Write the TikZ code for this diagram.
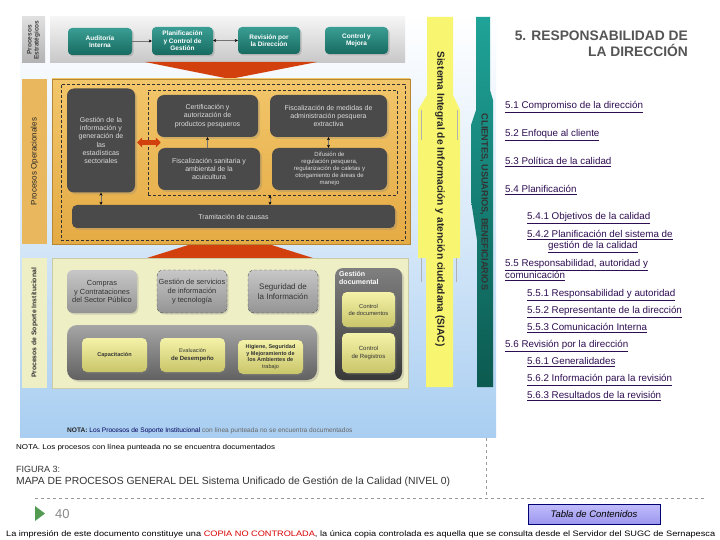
\documentclass[tikz,border=0pt]{standalone}
\usepackage{fontspec}
\setmainfont{Liberation Sans}
\usepackage{graphicx}
\usetikzlibrary{shadows,arrows.meta,calc}
\definecolor{tealA}{HTML}{3A9E94}
\definecolor{tealB}{HTML}{176A60}
\definecolor{darkbx}{HTML}{4A4A4A}
\definecolor{darktxt}{HTML}{DCDCDC}
\definecolor{orA}{HTML}{F2C66A}
\definecolor{orB}{HTML}{E4AA44}
\definecolor{orlbl}{HTML}{E9B75E}
\definecolor{redor}{HTML}{D2400E}
\definecolor{yelbar}{HTML}{F8F570}
\definecolor{tlA}{HTML}{1FA398}
\definecolor{tlB}{HTML}{0C5A50}
\definecolor{bgblue}{HTML}{A9CEF1}
\definecolor{supbg}{HTML}{EFEFC6}
\definecolor{yelA}{HTML}{F4F2A8}
\definecolor{yelB}{HTML}{C9C56A}
\definecolor{linkc}{HTML}{2E0E52}
\definecolor{titc}{HTML}{555555}
\definecolor{btnA}{HTML}{C0BCFA}
\definecolor{btnB}{HTML}{9C96EE}
\tikzset{
  base/.style={align=center, inner sep=1pt},
  tealbox/.style={base, rounded corners=4pt, top color=tealA, bottom color=tealB, text=white,
     font=\bfseries\fontsize{6.5}{7.6}\selectfont,
     drop shadow={opacity=0.35, shadow xshift=1.5pt, shadow yshift=-1.5pt}},
  darkbox/.style={base, rounded corners=7pt, fill=darkbx, text=darktxt,
     font=\fontsize{7}{8.2}\selectfont,
     drop shadow={opacity=0.25, shadow xshift=2pt, shadow yshift=-2pt}},
  greybox/.style={base, rounded corners=6pt, top color=black!22, bottom color=black!42, text=black!80,
     font=\fontsize{7.4}{8.8}\selectfont,
     drop shadow={opacity=0.25, shadow xshift=1.5pt, shadow yshift=-1.5pt}},
  yelbox/.style={base, rounded corners=5pt, top color=yelA, bottom color=yelB, text=black!80,
     font=\bfseries\fontsize{5.5}{6.6}\selectfont,
     drop shadow={opacity=0.3, shadow xshift=1.5pt, shadow yshift=-1.5pt}},
  lbl/.style={base, rotate=90, font=\bfseries\fontsize{6.8}{7.5}\selectfont, text=black!80},
  thinarr/.style={draw=black!55, line width=0.5pt, {Stealth[length=3pt,width=3pt,black]}-{Stealth[length=3pt,width=3pt,black]}},
  onearr/.style={draw=black!55, line width=0.5pt, -{Stealth[length=3pt,width=3pt,black]}},
  linkt/.style={anchor=base west, inner sep=0pt, text=linkc, font=\fontsize{9.8}{11}\selectfont},
}
\begin{document}
\begin{tikzpicture}[x=1pt,y=-1pt]
\useasboundingbox (0,0) rectangle (720,540);
\fill[white] (0,0) rectangle (720,540);
% figure background
\shade[top color=white, bottom color=bgblue, middle color=bgblue!45] (20,15) rectangle (496,437);

% ---------- red triangles ----------
\fill[redor] (147,258) -- (313,258) -- (230,232) -- cycle;

% ---------- strategic band ----------
\node[base, rotate=90, minimum width=46pt, minimum height=23pt, top color=black!12, bottom color=black!30,
      font=\bfseries\fontsize{6.5}{7}\selectfont, text=black!75] (lstr) at (33.5,40) {Procesos\\Estratégicos};
\node[base, minimum width=355pt, minimum height=46pt, top color=black!4, bottom color=black!22] (strat) at (227.5,40) {};
\fill[redor] (145,62) -- (317,62) -- (230,79) -- cycle;
\node[tealbox, minimum width=64pt, minimum height=27pt] (aud) at (100,41.5) {Auditoría\\Interna};
\node[tealbox, minimum width=61pt, minimum height=28pt] (plan) at (182.5,41) {Planificación\\y Control de\\Gestión};
\node[tealbox, minimum width=62pt, minimum height=27pt] (rev) at (269,40.5) {Revisión por\\la Dirección};
\node[tealbox, minimum width=63pt, minimum height=27pt] (cym) at (356.5,40.5) {Control y\\Mejora};
\draw[onearr] (aud.east |- plan.west) -- (plan.west);
\draw[thinarr] (plan.east |- rev.west) -- (rev.west);

% ---------- operational band ----------
\node[lbl, minimum width=164pt, minimum height=25pt, fill=orlbl, font=\fontsize{8}{9}\selectfont, text=black!85] (lop) at (34.5,161.5) {Procesos Operacionales};
\node[base, minimum width=358pt, minimum height=165pt, top color=orA, bottom color=orB, draw=orB!80!black] (oper) at (231,161.5) {};
\node[base, minimum width=344pt, minimum height=156pt, draw=black!80, densely dashed, line width=0.5pt] (odash) at (233,162) {};
\node[base, minimum width=249pt, minimum height=105pt, draw=black!80, densely dashed, line width=0.5pt] (inner) at (272.5,142.5) {};
\node[darkbox, minimum width=68pt, minimum height=104pt, text width=64pt] (gest) at (101,140.5)
  {Gestión de la\\información y\\generación de\\las\\estadísticas\\sectoriales};
\node[darkbox, minimum width=101pt, minimum height=42pt] (cert) at (207.5,116)
  {Certificación y\\autorización de\\productos pesqueros};
\node[darkbox, minimum width=117pt, minimum height=42pt] (fmed) at (328.5,116)
  {Fiscalización de medidas de\\administración pesquera\\extractiva};
\node[darkbox, minimum width=102pt, minimum height=42pt] (fsan) at (209,169)
  {Fiscalización sanitaria y\\ambiental de la\\acuicultura};
\node[darkbox, minimum width=115pt, minimum height=42pt, font=\fontsize{6}{6.9}\selectfont] (dif) at (329.5,169)
  {Difusión de\\regulación pesquera,\\regularización de caletas y\\otorgamiento de áreas de\\manejo};
\node[darkbox, rounded corners=5pt, minimum width=323pt, minimum height=23pt] (tram) at (233.5,216.5) {Tramitación de causas};
\coordinate (c207) at (207.5,0);
\coordinate (c270) at (270,0);
\draw[onearr] (fsan.north -| c207) -- (cert.south -| c207);
\draw[thinarr] (fmed.south) -- (fmed.south |- dif.north);
\draw[thinarr] (gest.south) -- (gest.south |- tram.north);
\draw[thinarr] (inner.south -| c270) -- (tram.north -| c270);
\draw[redor, line width=4.5pt, {Triangle[length=5pt,width=10pt]}-{Triangle[length=5pt,width=10pt]}]
  ($(gest.east |- inner.west)+(2,0)$) -- ($(inner.west)+(13,0)$);

% ---------- support band ----------
\node[lbl, minimum width=130pt, minimum height=25pt, fill=supbg] (lsup) at (34.5,323) {Procesos de Soporte Institucional};
\node[base, minimum width=356pt, minimum height=130pt, fill=supbg, draw=supbg!85!black] (sup) at (230,323) {};
\node[greybox, minimum width=70pt, minimum height=43pt] (comp) at (102,291.5) {Compras\\y Contrataciones\\del Sector Público};
\node[greybox, minimum width=70pt, minimum height=43pt, draw=black!70, densely dashed] (gserv) at (192,291.5) {Gestión de servicios\\de información\\y tecnología};
\node[greybox, minimum width=70pt, minimum height=43pt, draw=black!70, densely dashed, font=\fontsize{8}{9.6}\selectfont] (seg) at (283,291.5) {Seguridad de\\la Información};
\node[base, rounded corners=8pt, minimum width=67pt, minimum height=112pt, top color=black!50, bottom color=black!78,
      drop shadow={opacity=0.25, shadow xshift=2pt, shadow yshift=-2pt}] (gdoc) at (368.5,324) {};
\node[anchor=north west, inner sep=0pt, align=left, text=white, font=\bfseries\fontsize{7}{8.5}\selectfont] (gdoct) at (339,271) {Gestión\\documental};
\node[yelbox, minimum width=53pt, minimum height=35pt, font=\fontsize{5.8}{7}\selectfont] (cdoc) at (368.5,309.5) {Control\\de documentos};
\node[yelbox, minimum width=53pt, minimum height=40pt, font=\fontsize{6}{7.2}\selectfont] (creg) at (368.5,353) {Control\\de Registros};
\node[base, rounded corners=10pt, minimum width=250pt, minimum height=55pt, top color=black!35, bottom color=black!62,
      drop shadow={opacity=0.25, shadow xshift=2pt, shadow yshift=-2pt}] (bgrey) at (192,352.5) {};
\node[yelbox, minimum width=65pt, minimum height=34pt] (cap) at (114.5,355) {Capacitación};
\node[yelbox, minimum width=65pt, minimum height=34pt, font=\fontsize{6}{7.2}\selectfont] (eval) at (192.5,355) {{\mdseries\fontsize{5.5}{7}\selectfont Evaluación}\\\textbf{de Desempeño}};
\node[yelbox, minimum width=65pt, minimum height=34pt] (hig) at (270.5,357) {Higiene, Seguridad\\y Mejoramiento de\\los Ambientes de\\{\mdseries trabajo}};
\node[anchor=base west, inner sep=0pt, font=\fontsize{6.6}{7}\selectfont, text=black!60] (nota1) at (67,432)
  {\textbf{\color{black!85}NOTA:} {\color{blue!35!black}Los Procesos de Soporte Institucional} con línea punteada no se encuentra documentados};

% ---------- right vertical bars ----------
\fill[yelbar] (427,17) -- (453,17) -- (453,95) -- (460,110) -- (460,258) -- (453,258) -- (453,387)
   -- (426,387) -- (426,258) -- (418,258) -- (418,110) -- (427,95) -- cycle;
\draw[black!30, line width=0.4pt] (421,110) -- (421,140) (457,110) -- (457,140) (421,258) -- (421,282) (456,258) -- (456,282);
\node[base, rotate=-90, font=\bfseries\fontsize{10.2}{11}\selectfont, text=black!85] (siac) at (440,199)
  {Sistema Integral de Información y atención ciudadana (SIAC)};
\shade[top color=tlA, bottom color=tlB] (476,17) -- (490,17) -- (490,90) -- (493,100) -- (493,387)
   -- (477,387) -- (477,240) -- (471,200) -- (471,125) -- (476,110) -- cycle;
\node[base, rotate=-90, font=\bfseries\fontsize{9.2}{10}\selectfont, text=black!80] (cli) at (484,202)
  {CLIENTES, USUARIOS, BENEFICIARIOS};

% ---------- right text panel ----------
\node[anchor=base east, inner sep=0pt, text=titc, font=\bfseries\fontsize{13.8}{16}\selectfont] (t1) at (688,41) {5. RESPONSABILIDAD DE};
\node[anchor=base east, inner sep=0pt, text=titc, font=\bfseries\fontsize{13.8}{16}\selectfont] (t2) at (688,57) {LA DIRECCIÓN};
\node[linkt] (l51) at (505,108.5) {\underline{5.1 Compromiso de la dirección}};
\node[linkt] (l52) at (505,136.5) {\underline{5.2 Enfoque al cliente}};
\node[linkt] (l53) at (505,164.5) {\underline{5.3 Política de la calidad}};
\node[linkt] (l54) at (505,192.5) {\underline{5.4 Planificación}};
\node[linkt] (l541) at (527,219.5) {\underline{5.4.1 Objetivos de la calidad}};
\node[linkt] (l542) at (527,237.5) {\underline{5.4.2 Planificación del sistema de}};
\node[linkt] (l542b) at (548,248.5) {\underline{gestión de la calidad}};
\node[linkt] (l55) at (505,266.5) {\underline{5.5 Responsabilidad, autoridad y}};
\node[linkt] (l55b) at (505,278.5) {\underline{comunicación}};
\node[linkt] (l551) at (527,296.5) {\underline{5.5.1 Responsabilidad y autoridad}};
\node[linkt] (l552) at (527,313.5) {\underline{5.5.2 Representante de la dirección}};
\node[linkt] (l553) at (527,330.5) {\underline{5.5.3 Comunicación Interna}};
\node[linkt] (l56) at (505,347.5) {\underline{5.6 Revisión por la dirección}};
\node[linkt] (l561) at (527,364.5) {\underline{5.6.1 Generalidades}};
\node[linkt] (l562) at (527,381.5) {\underline{5.6.2 Información para la revisión}};
\node[linkt] (l563) at (527,398.5) {\underline{5.6.3 Resultados de la revisión}};

% ---------- footer ----------
\draw[black!40, dashed, line width=0.6pt] (486,438) -- (486,497);
\draw[black!40, dashed, line width=0.6pt] (35,498) -- (705,498);
\node[anchor=base west, inner sep=0pt, text=black] (nota2) at (16,449)
  {\resizebox{259pt}{5.2pt}{NOTA. Los procesos con línea punteada no se encuentra documentados}};
\node[anchor=base west, inner sep=0pt, text=black!80, font=\fontsize{9}{10}\selectfont] (fig) at (16,472) {FIGURA 3:};
\node[anchor=base west, inner sep=0pt, text=black!80] (mapa) at (16,484.5)
  {\resizebox{434pt}{!}{\fontsize{9}{10}\selectfont MAPA DE PROCESOS GENERAL DEL Sistema Unificado de Gestión de la Calidad (NIVEL 0)}};
\fill[black!20!green!35!gray] (35,506) -- (35,521) -- (45,513.5) -- cycle;
\node[anchor=base west, inner sep=0pt, text=black!45, font=\fontsize{13}{14}\selectfont] (pg) at (55,518) {40};
\node[base, minimum width=132pt, minimum height=20pt, top color=btnA, bottom color=btnB, draw=black!55!blue,
      font=\itshape\fontsize{9.5}{11}\selectfont] (tabla) at (594,514.5) {Tabla de Contenidos};
\node[anchor=base west, inner sep=0pt, text=black] (imp) at (6,536)
  {\resizebox{709pt}{5.8pt}{La impresión de este documento constituye una {\color{red!85!black}COPIA NO CONTROLADA}, la única copia controlada es aquella que se consulta desde el Servidor del SUGC de Sernapesca}};
\end{tikzpicture}
\end{document}
